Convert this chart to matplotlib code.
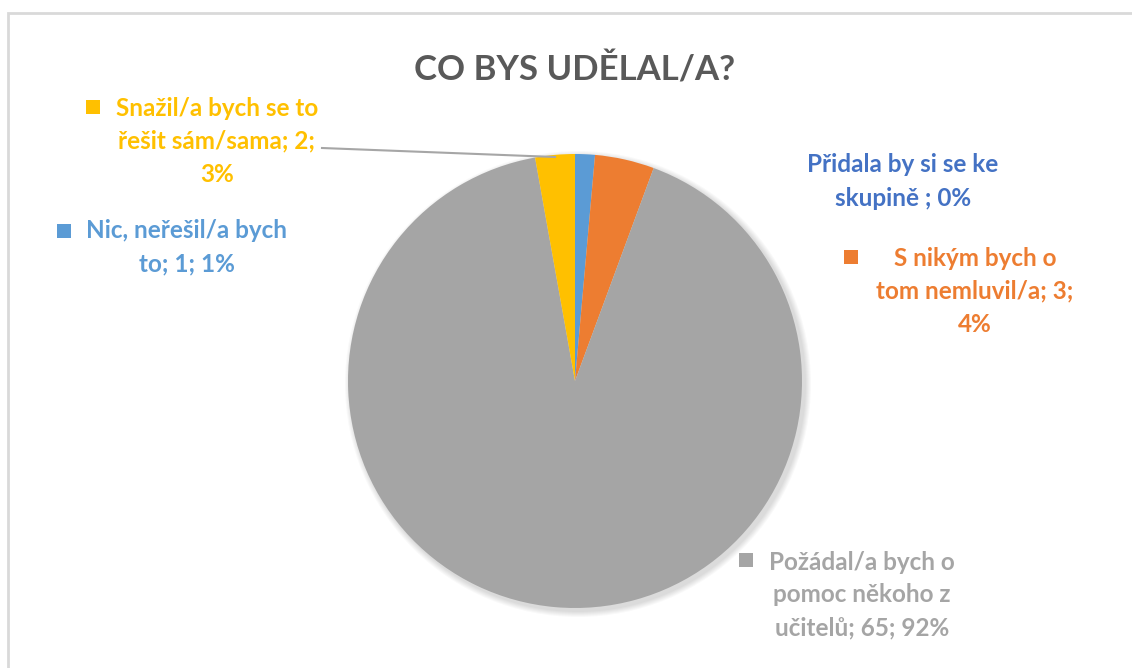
"""
Pie chart: CO BYS UDĚLAL/A? (survey answers with counts and shares)
"""

import matplotlib
matplotlib.use("Agg")  # headless backend
import matplotlib.pyplot as plt
from matplotlib.patches import Rectangle, Circle

# --- data -------------------------------------------------------------------
title = "CO BYS UDĚLAL/A?"
categories = [
    "Přidala by si se ke skupině ",
    "Nic, neřešil/a bych to",
    "S nikým bych o tom nemluvil/a",
    "Požádal/a bych o pomoc někoho z učitelů",
    "Snažil/a bych se to řešit sám/sama",
]
counts = [0, 1, 3, 65, 2]
colors = ["#4472C4", "#5B9BD5", "#ED7D31", "#A5A5A5", "#FFC000"]
# data label text as it is wrapped in the chart
label_lines = [
    ["Přidala by si se ke", "skupině ; 0%"],
    ["Nic, neřešil/a bych", "to; 1; 1%"],
    ["S nikým bych o", "tom nemluvil/a; 3;", "4%"],
    ["Požádal/a bych o", "pomoc někoho z", "učitelů; 65; 92%"],
    ["Snažil/a bych se to", "řešit sám/sama; 2;", "3%"],
]

# --- layout (pixels, y measured from top) -----------------------------------
W, H = 1132, 668
center = (575, 381)
radius = 227
label_pos = [(903, 165), (187, 231), (975, 258), (862, 562), (217, 108)]
key_pos = [None, (64, 231), (851, 257), (746, 560), (93, 107)]
line_step = 33
FONT = ["Lato", "DejaVu Sans"]


def fy(y):
    """Pixel y (from top) to axes data y."""
    return H - y


fig = plt.figure(figsize=(W / 100, H / 100), dpi=100)
ax = fig.add_axes([0, 0, 1, 1])

# chart border
ax.add_patch(Rectangle((8, -10), W + 20, fy(13) + 10, fill=False,
                       edgecolor="#D9D9D9", linewidth=2))

# soft shadow behind the pie
for k in range(6):
    ax.add_patch(Circle((center[0] + 3, fy(center[1] + 3)), radius + 1 + k,
                        color="black", alpha=0.025, linewidth=0, zorder=1))

ax.pie(counts, colors=colors, startangle=90, counterclock=False,
       center=(center[0], fy(center[1])), radius=radius, frame=True,
       wedgeprops=dict(linewidth=0, zorder=2))
ax.set_xlim(0, W)
ax.set_ylim(0, H)
ax.set_aspect("equal")
ax.axis("off")

# title
ax.text(575, fy(70), title, ha="center", va="center", fontsize=25,
        fontweight="bold", color="#595959", family=FONT)

# leader line for the small yellow slice
ax.plot([322, 555], [fy(148), fy(157)], color="#A6A6A6", linewidth=1.5,
        zorder=3)

# data labels
for lines, (x, y), key, col in zip(label_lines, label_pos, key_pos, colors):
    for i, line in enumerate(lines):
        ax.text(x, fy(y + i * line_step), line, ha="center", va="center",
                fontsize=17.5, fontweight="bold", color=col, family=FONT)
    if key is not None:
        ax.add_patch(Rectangle((key[0] - 7, fy(key[1]) - 7), 14, 14,
                               color=col, linewidth=0))

fig.savefig("out.png", dpi=100)
